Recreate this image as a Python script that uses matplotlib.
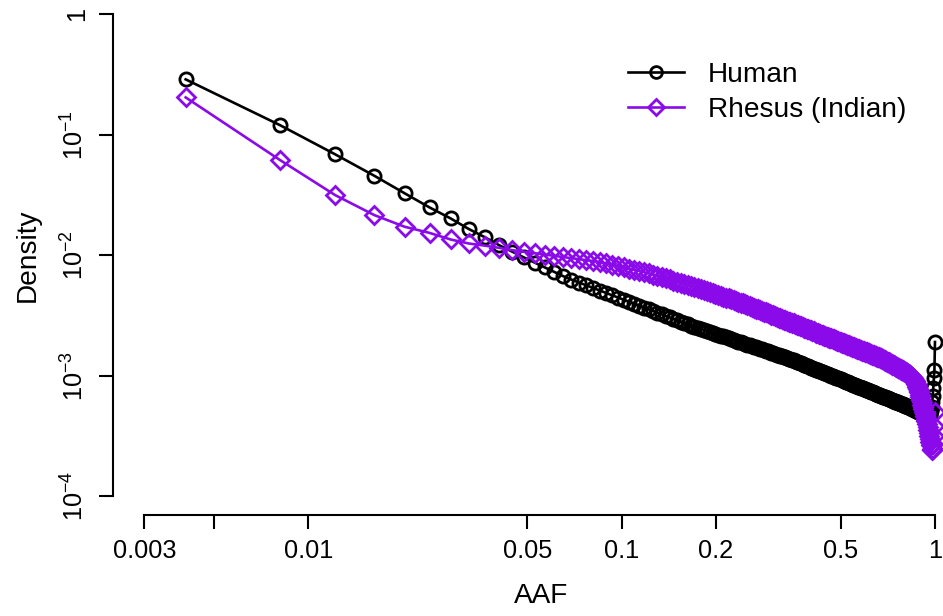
import numpy as np
import matplotlib
matplotlib.use("Agg")
import matplotlib.pyplot as plt
from matplotlib.lines import Line2D

plt.rcParams['font.family'] = ['Liberation Sans', 'DejaVu Sans']
plt.rcParams['mathtext.fontset'] = 'custom'
plt.rcParams['mathtext.rm'] = 'Liberation Sans'
plt.rcParams['mathtext.it'] = 'Liberation Sans'

# ---------------- data ----------------
n_chrom = 246  # number of allele-count bins (AAF = k / n_chrom)

human = [
    0.288, 0.120, 0.0687, 0.0456, 0.0326, 0.0249, 0.0202, 0.0165, 0.0141, 0.0121,
    0.0107, 0.00957, 0.00867, 0.00791, 0.00726, 0.00670, 0.00627, 0.00592, 0.00561, 0.00533,
    0.00507, 0.00484, 0.00463, 0.00444, 0.00426, 0.00410, 0.00395, 0.00381, 0.00367, 0.00355,
    0.00344, 0.00333, 0.00323, 0.00313, 0.00304, 0.00296, 0.00288, 0.00280, 0.00273, 0.00266,
    0.002603, 0.002548, 0.002496, 0.002446, 0.002398, 0.002352, 0.002308, 0.002266, 0.002225, 0.002186,
    0.002148, 0.002112, 0.002077, 0.002043, 0.002010, 0.001979, 0.001948, 0.001918, 0.001890, 0.001862,
    0.001835, 0.001809, 0.001784, 0.001759, 0.001735, 0.001712, 0.001690, 0.001668, 0.001647, 0.001626,
    0.001606, 0.001586, 0.001567, 0.001548, 0.001530, 0.001512, 0.001495, 0.001478, 0.001461, 0.001445,
    0.001430, 0.001414, 0.001399, 0.001385, 0.001370, 0.001353, 0.001337, 0.001321, 0.001306, 0.001290,
    0.001276, 0.001261, 0.001247, 0.001233, 0.001219, 0.001206, 0.001193, 0.001180, 0.001167, 0.001155,
    0.001143, 0.001131, 0.001120, 0.001109, 0.001098, 0.001087, 0.001076, 0.001066, 0.001055, 0.001045,
    0.001036, 0.001026, 0.001016, 0.001007, 0.000998, 0.000989, 0.000980, 0.000971, 0.000962, 0.000954,
    0.000946, 0.000937, 0.000930, 0.000922, 0.000914, 0.000906, 0.000899, 0.000891, 0.000884, 0.000877,
    0.000870, 0.000863, 0.000856, 0.000850, 0.000843, 0.000836, 0.000830, 0.000824, 0.000817, 0.000811,
    0.000805, 0.000799, 0.000793, 0.000788, 0.000782, 0.000776, 0.000771, 0.000765, 0.000760, 0.000755,
    0.000749, 0.000744, 0.000739, 0.000734, 0.000729, 0.000724, 0.000719, 0.000715, 0.000710, 0.000705,
    0.000701, 0.000696, 0.000692, 0.000687, 0.000683, 0.000678, 0.000674, 0.000670, 0.000666, 0.000662,
    0.000658, 0.000654, 0.000650, 0.000646, 0.000642, 0.000638, 0.000634, 0.000631, 0.000627, 0.000623,
    0.000620, 0.000616, 0.000612, 0.000609, 0.000605, 0.000602, 0.000599, 0.000595, 0.000592, 0.000589,
    0.000585, 0.000582, 0.000579, 0.000576, 0.000573, 0.000570, 0.000567, 0.000564, 0.000561, 0.000558,
    0.000554, 0.000551, 0.000547, 0.000544, 0.000540, 0.000537, 0.000534, 0.000530, 0.000527, 0.000524,
    0.000520, 0.000517, 0.000514, 0.000511, 0.000508, 0.000505, 0.000502, 0.000499, 0.000496, 0.000493,
    0.000490, 0.000487, 0.000484, 0.000481, 0.000479, 0.000476, 0.000473, 0.000470, 0.000468, 0.000466,
    0.000464, 0.000463, 0.000462, 0.000462, 0.000462, 0.000463, 0.000466, 0.000479, 0.000513, 0.000550,
    0.000603, 0.000676, 0.000794, 0.000955, 0.00111, 0.00190,
]

rhesus = [
    0.204, 0.0616, 0.0315, 0.0215, 0.0172, 0.0153, 0.0135, 0.0125, 0.0120, 0.0115,
    0.0110, 0.01067, 0.01038, 0.01011, 0.00987, 0.00965, 0.00945, 0.00926, 0.00909, 0.00892,
    0.00877, 0.00853, 0.00830, 0.00810, 0.00790, 0.00771, 0.00754, 0.00738, 0.00723, 0.00708,
    0.00690, 0.00674, 0.00658, 0.00643, 0.00629, 0.00615, 0.00602, 0.00590, 0.00579, 0.00567,
    0.00557, 0.005453, 0.005342, 0.005234, 0.005132, 0.005034, 0.004939, 0.004849, 0.004761, 0.004677,
    0.004596, 0.004518, 0.004444, 0.004371, 0.004301, 0.004233, 0.004168, 0.004105, 0.004043, 0.003974,
    0.003907, 0.003842, 0.003780, 0.003719, 0.003660, 0.003603, 0.003548, 0.003494, 0.003442, 0.003391,
    0.003342, 0.003294, 0.003248, 0.003203, 0.003159, 0.003116, 0.003074, 0.003033, 0.002993, 0.002955,
    0.002917, 0.002881, 0.002845, 0.002810, 0.002776, 0.002743, 0.002711, 0.002679, 0.002648, 0.002618,
    0.002588, 0.002559, 0.002531, 0.002503, 0.002476, 0.002449, 0.002423, 0.002398, 0.002373, 0.002348,
    0.002324, 0.002301, 0.002278, 0.002255, 0.002233, 0.002212, 0.002190, 0.002169, 0.002149, 0.002129,
    0.002109, 0.002090, 0.002071, 0.002052, 0.002033, 0.002015, 0.001998, 0.001980, 0.001963, 0.001946,
    0.001930, 0.001913, 0.001897, 0.001881, 0.001866, 0.001851, 0.001836, 0.001821, 0.001806, 0.001792,
    0.001778, 0.001764, 0.001751, 0.001737, 0.001724, 0.001711, 0.001698, 0.001685, 0.001673, 0.001660,
    0.001648, 0.001636, 0.001624, 0.001613, 0.001601, 0.001590, 0.001579, 0.001568, 0.001557, 0.001547,
    0.001536, 0.001526, 0.001515, 0.001505, 0.001495, 0.001485, 0.001476, 0.001466, 0.001456, 0.001447,
    0.001438, 0.001429, 0.001420, 0.001411, 0.001402, 0.001390, 0.001377, 0.001365, 0.001353, 0.001342,
    0.001330, 0.001319, 0.001307, 0.001296, 0.001285, 0.001275, 0.001264, 0.001253, 0.001243, 0.001233,
    0.001223, 0.001213, 0.001203, 0.001194, 0.001184, 0.001175, 0.001165, 0.001156, 0.001147, 0.001138,
    0.001130, 0.001121, 0.001112, 0.001104, 0.001096, 0.001088, 0.001079, 0.001071, 0.001064, 0.001056,
    0.001047, 0.001038, 0.001028, 0.001019, 0.001009, 0.000995, 0.000982, 0.000970, 0.000957, 0.000944,
    0.000923, 0.000902, 0.000881, 0.000855, 0.000828, 0.000804, 0.000776, 0.000750, 0.000724, 0.000692,
    0.000661, 0.000631, 0.000603, 0.000575, 0.000550, 0.000525, 0.000501, 0.000479, 0.000459, 0.000440,
    0.000422, 0.000398, 0.000376, 0.000355, 0.000333, 0.000314, 0.000295, 0.000279, 0.000263, 0.000248,
    0.000240, 0.000248, 0.000272, 0.000316, 0.000380, 0.000495,
]

if len(human) != n_chrom or len(rhesus) != n_chrom:
    raise SystemExit(f"length mismatch: human={len(human)} rhesus={len(rhesus)}")

aaf = np.arange(1, n_chrom + 1) / n_chrom

x_ticks = [0.003, 0.005, 0.01, 0.05, 0.1, 0.2, 0.5, 1]
x_tick_labels = ['0.003', '', '0.01', '0.05', '0.1', '0.2', '0.5', '1']
y_ticks = [1e-4, 1e-3, 1e-2, 1e-1, 1]
y_tick_labels = [r'$\mathregular{10^{-4}}$', r'$\mathregular{10^{-3}}$',
                 r'$\mathregular{10^{-2}}$', r'$\mathregular{10^{-1}}$', '1']

series_names = ['Human', 'Rhesus (Indian)']
colors = ['#000000', '#8B0AEA']

# ---------------- figure ----------------
W, H = 943, 616
fig = plt.figure(figsize=(W / 100, H / 100), dpi=100)
# plot region in pixels (R style, 4% extension around tick range)
left_px, right_px, top_px, bottom_px = 112.7, 966.6, -5.0, 515.3
ax = fig.add_axes([left_px / W, 1 - bottom_px / H,
                   (right_px - left_px) / W, (bottom_px - top_px) / H])
ax.set_xscale('log')
ax.set_yscale('log')

lw = 1.9
mew = 2.0
ax.plot(aaf, human, color=colors[0], lw=lw, marker='o', ms=9.5,
        mfc='none', mec=colors[0], mew=mew, zorder=3)
ax.plot(aaf, rhesus, color=colors[1], lw=lw, marker='D', ms=9.5,
        mfc='none', mec=colors[1], mew=mew, zorder=4)

# limits: tick range expanded by 4% in log space
def expand(lo, hi):
    llo, lhi = np.log10(lo), np.log10(hi)
    d = 0.04 * (lhi - llo)
    return 10 ** (llo - d), 10 ** (lhi + d)

ax.set_xlim(*expand(0.003, 1))
ax.set_ylim(*expand(1e-4, 1))

ax.set_xticks(x_ticks)
ax.set_xticklabels(x_tick_labels)
ax.set_yticks(y_ticks)
ax.set_yticklabels(y_tick_labels, rotation=90, va='center')
ax.minorticks_off()

fs_tick = 18.3
fs_lab = 20.2
ax.tick_params(axis='both', direction='out', length=10, width=1.5,
               labelsize=fs_tick, color='black')
ax.tick_params(axis='x', pad=7)
ax.tick_params(axis='y', pad=7)

for s in ['top', 'right']:
    ax.spines[s].set_visible(False)
ax.spines['left'].set_bounds(1e-4, 1)
ax.spines['bottom'].set_bounds(0.003, 1)
for s in ['left', 'bottom']:
    ax.spines[s].set_linewidth(1.5)

ax.set_xlabel('AAF', fontsize=fs_lab)
ax.set_ylabel('Density', fontsize=fs_lab)
ax.xaxis.set_label_coords((541 - left_px) / (right_px - left_px),
                          (bottom_px - 596) / (bottom_px - top_px))
ax.yaxis.set_label_coords((28 - left_px) / (right_px - left_px),
                          (bottom_px - 255) / (bottom_px - top_px))
ax.xaxis.label.set_va('center')
ax.yaxis.label.set_va('center')

handles = [Line2D([], [], color=colors[0], lw=lw, marker='o', ms=8.5, mfc='none',
                  mec=colors[0], mew=mew),
           Line2D([], [], color=colors[1], lw=lw, marker='D', ms=8.5, mfc='none',
                  mec=colors[1], mew=mew)]
leg = ax.legend(handles, series_names, loc='upper left',
                bbox_to_anchor=(628 / W, 1 - 62 / H), bbox_transform=fig.transFigure,
                frameon=False, fontsize=fs_lab, handlelength=1.98, handletextpad=0.86,
                labelspacing=0.33, borderpad=0, borderaxespad=0)

fig.savefig('out.png', dpi=100)
